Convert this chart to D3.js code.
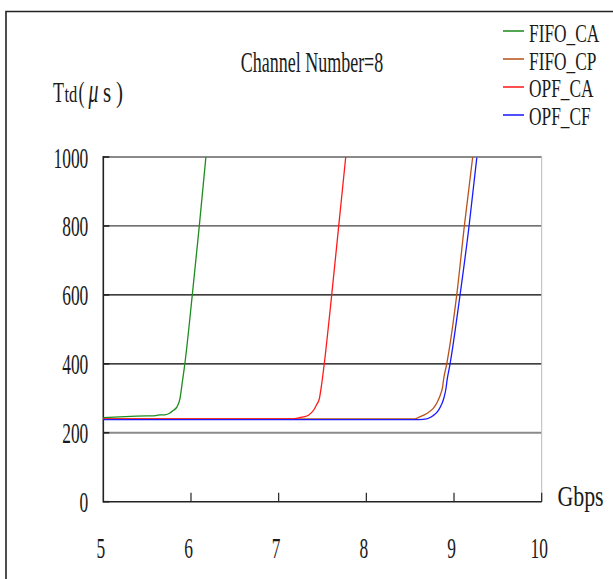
<!DOCTYPE html>
<html>
<head>
<meta charset="utf-8">
<script src="https://cdn.jsdelivr.net/npm/d3@7"></script>
<style>
  html, body { margin: 0; padding: 0; background: #fff; }
  svg { display: block; }
</style>
</head>
<body>
<svg id="chart" width="613" height="579"></svg>
<script>
// ---------------- data ----------------
const chartTitle = "Channel Number=8";
const xTicks = [5, 6, 7, 8, 9, 10];
const yTicks = [0, 200, 400, 600, 800, 1000];
const seriesNames = ["FIFO_CA", "FIFO_CP", "OPF_CA", "OPF_CF"];
const seriesColors = ["#1e8c1e", "#b8521c", "#ff1a1a", "#1a1aff"];
const yTitleParts = ["T", "td", "(", "μ", "s", ")"];

const fifoCA = [[5,244],[5.25,247],[5.5,249],[5.6,250],[5.65,252],[5.7,252],[5.75,256],[5.8,265],[5.84,275],[5.875,300],[5.9,345],[5.93,400],[6.015,600],[6.095,800],[6.17,1000]];
const fifoCP = [[5,240],[8.55,240],[8.61,246],[8.69,256],[8.76,270],[8.79,280],[8.82,295],[8.85,314],[8.87,333],[8.88,353],[8.917,400],[9.031,600],[9.118,800],[9.213,1000]];
const opfCA  = [[5,240],[7.15,240],[7.2,242],[7.28,246],[7.34,251],[7.4,266],[7.43,280],[7.465,300],[7.49,340],[7.52,400],[7.605,600],[7.685,800],[7.765,1000]];
const opfCF  = [[5,240],[8.6,240],[8.69,242],[8.76,251],[8.82,266],[8.86,285],[8.886,304],[8.91,333],[8.92,353],[8.954,400],[9.068,600],[9.171,800],[9.26,1000]];
const seriesData = [fifoCA, fifoCP, opfCA, opfCF];

// ---------------- drawing ----------------
const svg = d3.select("#chart");
const FONT = "'Liberation Serif', 'Times New Roman', serif";
const FS = 30;             // font size
const SX = 0.58;           // horizontal condensing of text
const TXT = "#1a1a1a";

const x = d3.scaleLinear().domain([5, 10]).range([103.3, 541.7]);
const y = d3.scaleLinear().domain([0, 1000]).range([501.7, 157]);

function ctext(g, str, px, py, size, anchor, sx) {
  return g.append("text")
    .attr("transform", `translate(${px},${py}) scale(${sx || SX},1)`)
    .attr("text-anchor", anchor || "start")
    .attr("font-family", FONT)
    .attr("font-size", size)
    .attr("fill", TXT)
    .text(str);
}

// outer frame (top and left edges visible)
svg.append("path")
  .attr("d", "M6,590 L6,11.5 L620,11.5")
  .attr("fill", "none").attr("stroke", "#222").attr("stroke-width", 1.6);

// gridlines
const gridStyle = v => v === 1000 || v === 200 ? {c: "#8a8a8a", w: 2} : (v === 800 ? {c: "#444", w: 1.2} : {c: "#000", w: 1.2});
svg.append("g").selectAll("line")
  .data(yTicks.filter(v => v > 0))
  .join("line")
  .attr("x1", x(5)).attr("x2", x(10))
  .attr("y1", d => y(d)).attr("y2", d => y(d))
  .attr("stroke", d => gridStyle(d).c)
  .attr("stroke-width", d => gridStyle(d).w);

// right plot border
svg.append("line")
  .attr("x1", x(10)).attr("x2", x(10)).attr("y1", y(1000)).attr("y2", y(0))
  .attr("stroke", "#bbb").attr("stroke-width", 1);

// axes lines
svg.append("line").attr("x1", x(5)).attr("x2", x(5)).attr("y1", y(1000) - 1).attr("y2", y(0) + 0.7)
  .attr("stroke", "#222").attr("stroke-width", 1.6);
svg.append("line").attr("x1", x(5)).attr("x2", x(10)).attr("y1", y(0)).attr("y2", y(0))
  .attr("stroke", "#222").attr("stroke-width", 1.6);

// y ticks (inward)
svg.append("g").selectAll("line").data(yTicks).join("line")
  .attr("x1", x(5)).attr("x2", x(5) + 6)
  .attr("y1", d => y(d)).attr("y2", d => y(d))
  .attr("stroke", "#222").attr("stroke-width", 1.6);
// x ticks (inward)
svg.append("g").selectAll("line").data(xTicks.slice(1)).join("line")
  .attr("x1", d => x(d)).attr("x2", d => x(d))
  .attr("y1", y(0)).attr("y2", y(0) - 9)
  .attr("stroke", "#222").attr("stroke-width", 1.2);

// tick labels
const gl = svg.append("g");
yTicks.forEach(v => ctext(gl, String(v), x(5) - 15, y(v) + 10.5, FS, "end"));
xTicks.forEach(v => ctext(gl, String(v), x(v) - 2.5, 558, FS, "middle"));

// axis titles
ctext(svg, "Gbps", 580.5, 506, FS, "middle", 0.73);
const ytLayout = [
  {px: 53,   size: 30, sx: 0.6,  st: "normal"},
  {px: 64.5, size: 23, sx: 0.72, st: "normal"},
  {px: 78.5, size: 30, sx: 0.6,  st: "normal"},
  {px: 88.5, size: 33, sx: 0.6,  st: "italic"},
  {px: 103,  size: 30, sx: 0.7,  st: "normal"},
  {px: 116,  size: 30, sx: 0.7,  st: "normal"}
];
yTitleParts.forEach((p, i) => {
  const L = ytLayout[i];
  ctext(svg, p, L.px, 102, L.size, "start", L.sx).attr("font-style", L.st);
});

// chart title
ctext(svg, chartTitle, 312, 72, FS, "middle", 0.6);

// series lines
const line = d3.line().x(d => x(d[0])).y(d => y(d[1])).curve(d3.curveMonotoneX);
svg.append("g").selectAll("path").data([0, 1, 2, 3]).join("path")
  .attr("d", i => line(seriesData[i]))
  .attr("fill", "none")
  .attr("stroke", i => seriesColors[i])
  .attr("stroke-width", 1.3)
  .attr("transform", i => i === 3 ? "translate(0,0.6)" : null);

// legend
const lg = svg.append("g");
seriesNames.forEach((name, i) => {
  const ly = 31 + 28 * i;
  lg.append("line").attr("x1", 503).attr("x2", 524).attr("y1", ly).attr("y2", ly)
    .attr("stroke", seriesColors[i]).attr("stroke-width", 1.8).attr("opacity", 0.85);
  ctext(lg, name, 529, 42 + 27.6 * i, 25.5, "start", 0.68);
});
</script>
</body>
</html>
